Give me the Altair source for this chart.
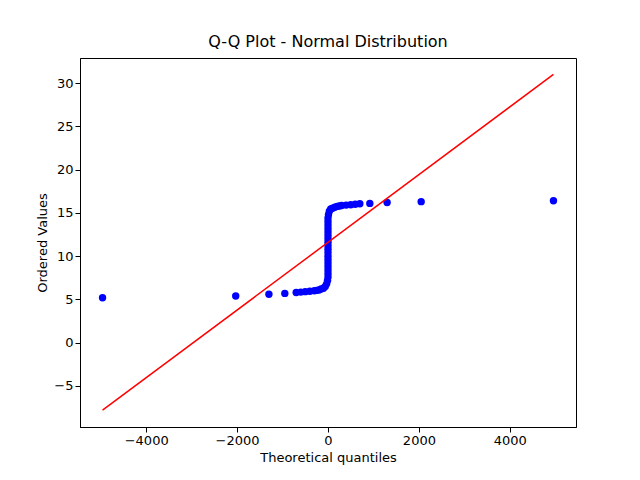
import altair as alt
import pandas as pd

# sample quantiles
theo = [-4960, -2030, -1300, -950, -700, -600, -500, -400, -300, -250, -200, -150, -100,
        -60, -30, -10, 0, 0, 0, 0, 0, 0, 0, 0, 0, 0, 0, 0, 0, 0, 0, 0, 0, 0, 10, 30, 60, 100, 150, 200,
        250, 300, 400, 500, 600, 700, 920, 1300, 2050, 4960]
ordered = [5.2, 5.4, 5.6, 5.7, 5.8, 5.85, 5.9, 5.95, 6.0, 6.05, 6.1, 6.2, 6.3,
           6.5, 6.8, 7.2, 7.6, 8.0, 8.4, 8.8, 9.2, 9.6, 10.0, 10.4, 10.8, 11.2, 11.6, 12.0, 12.4, 12.8,
           13.2, 13.6, 14.0, 14.4, 14.8, 15.2, 15.45,
           15.55, 15.65, 15.75, 15.8, 15.85, 15.9, 15.95, 16.0, 16.05, 16.1, 16.2, 16.3, 16.4]
fit_x = [-4960, 4960]
fit_y = [-7.8, 31.0]

pts = pd.DataFrame({"x": theo, "y": ordered})
fit = pd.DataFrame({"x": fit_x, "y": fit_y})

xs = alt.Scale(domain=[-5456, 5456], nice=False, zero=False)
ys = alt.Scale(domain=[-9.74, 32.9], nice=False, zero=False)
common = dict(grid=False, labelFontSize=13, titleFontSize=13, titleFontWeight="normal",
              labelColor="black", titleColor="black", domainColor="black", tickColor="black",
              labelFlush=False, tickSize=5, format="~d")
xax = alt.Axis(title="Theoretical quantiles", values=[-4000, -2000, 0, 2000, 4000], **common)
yax = alt.Axis(title="Ordered Values", values=[-5, 0, 5, 10, 15, 20, 25, 30], **common)

dots = alt.Chart(pts).mark_circle(color="#0000ff", opacity=1, size=55).encode(
    x=alt.X("x:Q", scale=xs, axis=xax),
    y=alt.Y("y:Q", scale=ys, axis=yax),
)
line = alt.Chart(fit).mark_line(color="red", strokeWidth=1.5).encode(
    x=alt.X("x:Q", scale=xs),
    y=alt.Y("y:Q", scale=ys),
)

chart = (dots + line).properties(
    width=496, height=369,
    title=alt.TitleParams("Q-Q Plot - Normal Distribution", fontSize=16, fontWeight="normal",
                          offset=8),
    padding={"left": 72, "right": 56, "top": 50, "bottom": 45},
    autosize="none",
).configure(font="DejaVu Sans").configure_view(stroke="black", strokeWidth=1)

chart.save("out.html", embed_options={"renderer": "svg", "actions": False})
